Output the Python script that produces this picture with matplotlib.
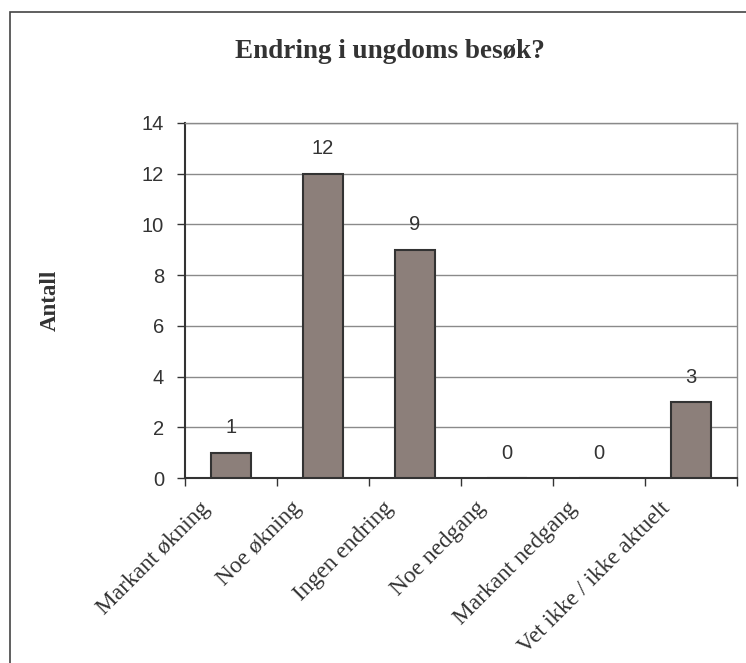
import matplotlib.pyplot as plt
import numpy as np
from matplotlib.patches import Rectangle
from matplotlib.transforms import ScaledTranslation

categories = ['Markant økning', 'Noe økning', 'Ingen endring',
              'Noe nedgang', 'Markant nedgang', 'Vet ikke / ikke aktuelt']
values = [1, 12, 9, 0, 0, 3]
yticks = [0, 2, 4, 6, 8, 10, 12, 14]

bar_color = '#8c7f7a'
edge_color = '#333333'
text_color = '#333333'

fig = plt.figure(figsize=(7.46, 6.63), dpi=100)
ax = fig.add_axes([185/746, 1 - 478/663, (737 - 185)/746, (478 - 123)/663])

# outer chart frame (cropped at the right and bottom)
fig.patches.append(Rectangle((10/746, -0.1), 1.2, 1 - 12/663 + 0.1,
                             transform=fig.transFigure, fill=False,
                             edgecolor='#444444', linewidth=1.2))

x = np.arange(len(categories))
ax.bar(x, values, width=0.43, color=bar_color, edgecolor=edge_color,
       linewidth=1.5, zorder=3)

for xi, v in zip(x, values):
    ax.text(xi, v + 0.98, str(v), ha='center', va='center',
            fontsize=14.5, color=text_color, family='Liberation Sans')

ax.set_xlim(-0.5, len(categories) - 0.5)
ax.set_ylim(0, 14)
ax.set_yticks(yticks)
ax.yaxis.grid(True, color='#8a8a8a', linewidth=1.0, zorder=0)

# tick marks on category boundaries, labels on centers
ax.set_xticks(np.arange(len(categories) + 1) - 0.5)
ax.set_xticklabels([])
ax.set_xticks(x, minor=True)
ax.set_xticklabels(categories, minor=True, rotation=45, ha='right',
                   rotation_mode='anchor', fontsize=16.8,
                   family='Liberation Serif', color=text_color)
ax.tick_params(axis='x', which='minor', length=0, pad=14)
ax.tick_params(axis='x', which='major', length=6, width=1, color=edge_color)
ax.tick_params(axis='y', length=6, width=1, color=edge_color, pad=9,
               labelsize=14.5, labelcolor=text_color)
for lab in ax.get_yticklabels():
    lab.set_family('Liberation Sans')
shift = ScaledTranslation(-32/100, 0, fig.dpi_scale_trans)
for lab in ax.get_xticklabels(minor=True):
    lab.set_transform(lab.get_transform() + shift)

for side in ['left', 'bottom']:
    ax.spines[side].set_color(edge_color)
    ax.spines[side].set_linewidth(1.5)
for side in ['top', 'right']:
    ax.spines[side].set_color('#8a8a8a')
    ax.spines[side].set_linewidth(1.0)

fig.text(50/746, 1 - 300/663, 'Antall', rotation=90, ha='center',
         va='center', fontsize=16.5, fontweight='bold',
         family='Liberation Serif', color=text_color)
fig.text(390/746, 1 - 51/663, 'Endring i ungdoms besøk?', ha='center',
         va='center', fontsize=19.5, fontweight='bold',
         family='Liberation Serif', color=text_color)

fig.savefig('out.png', dpi=100)
